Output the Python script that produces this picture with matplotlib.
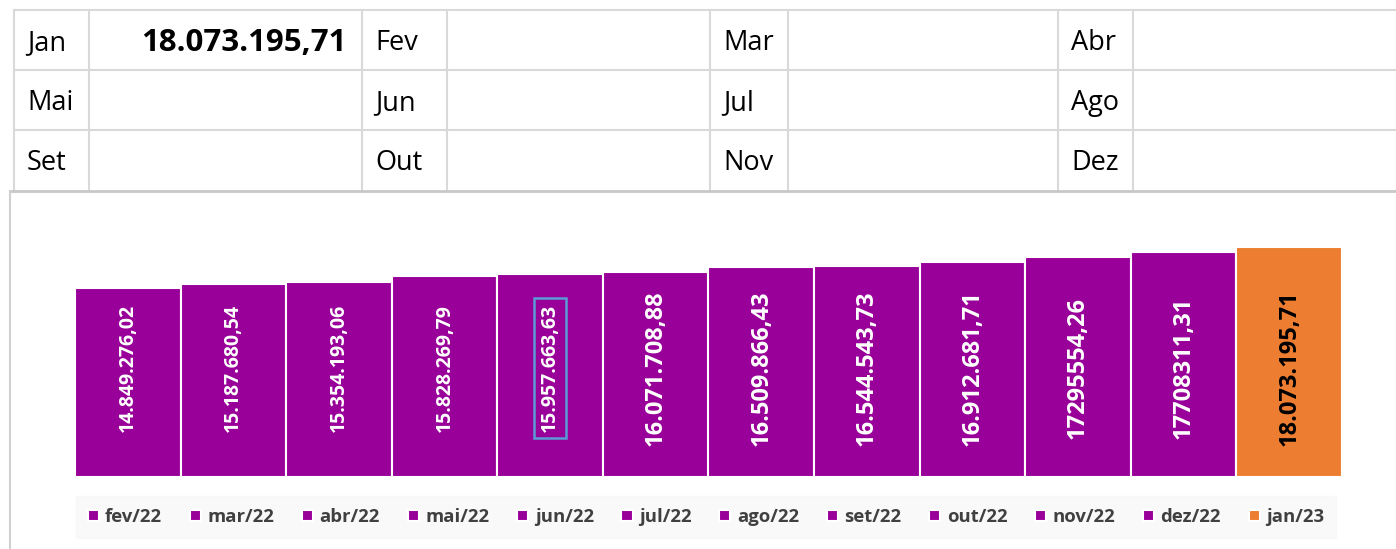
import matplotlib.pyplot as plt

# month names of the summary table (3 rows x 4 pairs)
table_months = [["Jan", "Fev", "Mar", "Abr"],
                ["Mai", "Jun", "Jul", "Ago"],
                ["Set", "Out", "Nov", "Dez"]]
table_values = {"Jan": "18.073.195,71"}

# bar chart data
periods = ["fev/22", "mar/22", "abr/22", "mai/22", "jun/22", "jul/22",
           "ago/22", "set/22", "out/22", "nov/22", "dez/22", "jan/23"]
values = [14849276.02, 15187680.54, 15354193.06, 15828269.79, 15957663.63, 16071708.88,
          16509866.43, 16544543.73, 16912681.71, 17295554.26, 17708311.31, 18073195.71]
value_labels = ["14.849.276,02", "15.187.680,54", "15.354.193,06", "15.828.269,79",
                "15.957.663,63", "16.071.708,88", "16.509.866,43", "16.544.543,73",
                "16.912.681,71", "17295554,26", "17708311,31", "18.073.195,71"]

purple = "#990099"
orange = "#ED7D31"
W, H = 1396, 549
FONT = "Open Sans"

fig = plt.figure(figsize=(W / 100, H / 100), dpi=100)

# background axes in pixel coordinates for the table and frame
bg = fig.add_axes([0, 0, 1, 1])
bg.set_xlim(0, W)
bg.set_ylim(H, 0)
bg.axis("off")

grid_col = "#d9d9d9"
col_x = [14, 89, 362, 447, 710, 788, 1058, 1133]
row_y = [10, 70, 130, 190]
for y in row_y[:-1]:
    bg.plot([14, W], [y, y], color=grid_col, lw=1.5)
for x in col_x:
    bg.plot([x, x], [row_y[0], row_y[-1]], color=grid_col, lw=1.5)

# chart frame
bg.plot([10, W], [191, 191], color="#c8c8c8", lw=2)
bg.plot([10, 10], [191, H], color="#d0d0d0", lw=1.5)

label_cols = [14, 362, 710, 1058]
for r, row in enumerate(table_months):
    yc = (row_y[r] + row_y[r + 1]) / 2 + 3
    for c, m in enumerate(row):
        bg.text(label_cols[c] + 13, yc, m, fontsize=19.5, family=FONT,
                ha="left", va="center", color="black")
        if m in table_values:
            bg.text(col_x[2 * c + 2] - 15, yc, table_values[m], fontsize=22.5,
                    family=FONT, fontweight="bold", ha="right", va="center")

# bar chart
ax = fig.add_axes([75 / W, 1 - 477 / H, (1342 - 75) / W, 277 / H])
ax.set_xlim(-0.5, len(values) - 0.5)
ax.set_ylim(0, max(values) * 277 / 230)
ax.axis("off")

handles = []
for i, (p, v) in enumerate(zip(periods, values)):
    col = orange if i == len(values) - 1 else purple
    b = ax.bar(i, v, width=1.0, color=col, edgecolor="white", linewidth=1.5, label=p)
    handles.append(b)

label_y = max(values) * 109 / 230
for i, (v, txt) in enumerate(zip(values, value_labels)):
    small = i < 5
    last = i == len(values) - 1
    t = ax.text(i, label_y, txt, rotation=90, ha="center", va="center",
                family=FONT, fontweight="bold", fontsize=14 if small else 17,
                color="black" if last else "white")
    if i == 4:
        t.set_bbox(dict(boxstyle="square,pad=0.3", facecolor="none",
                        edgecolor="#5B9BD5", linewidth=1.8))

leg = fig.legend(handles=handles, loc="center", bbox_to_anchor=(706 / W, 1 - 517 / H),
                 ncol=12, frameon=True, facecolor="#f8f8f8", edgecolor="#f8f8f8",
                 fancybox=False, handlelength=0.6, handleheight=0.6, handletextpad=0.35,
                 columnspacing=1.5, borderpad=0.65,
                 prop={"family": FONT, "weight": "bold", "size": 13.3})
for t in leg.get_texts():
    t.set_color("#404040")

fig.savefig("out.png", dpi=100)
